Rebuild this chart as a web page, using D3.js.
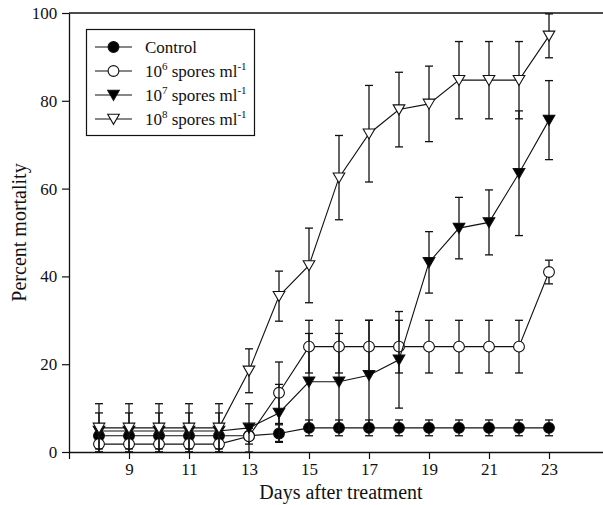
<!DOCTYPE html>
<html>
<head>
<meta charset="utf-8">
<script src="https://cdn.jsdelivr.net/npm/d3@7"></script>
<style>
  html, body { margin: 0; padding: 0; background: #fff; }
  svg { display: block; font-family: "Liberation Serif", "Times New Roman", serif; }
</style>
</head>
<body>
<div id="chart"></div>
<script>
// Days after treatment
const days = [8, 9, 10, 11, 12, 13, 14, 15, 16, 17, 18, 19, 20, 21, 22, 23];

// Percent mortality per treatment, with error bar half-widths
const control    = [3.7, 3.7, 3.7, 3.7, 3.7, 3.7, 4.2, 5.5, 5.5, 5.5, 5.5, 5.5, 5.5, 5.5, 5.5, 5.5];
const controlErr = [0, 0, 0, 0, 0, 0, 2, 1.8, 1.8, 1.8, 1.8, 1.8, 1.8, 1.8, 1.8, 1.8];

const spores6    = [1.8, 1.8, 1.8, 1.8, 1.8, 3.6, 13.5, 24, 24, 24, 24, 24, 24, 24, 24, 41];
const spores6Err = [1.8, 1.8, 1.8, 1.8, 1.8, 1.8, 7, 6, 6, 6, 6, 6, 6, 6, 6, 2.7];

const spores7    = [4.8, 4.8, 4.8, 4.8, 4.8, 5.5, 8.9, 16, 16, 17.5, 21, 43.2, 51, 52.3, 63.5, 75.6];
const spores7Err = [4.1, 4.1, 4.1, 4.1, 4.1, 5.5, 6.5, 11, 11, 12.5, 11, 7, 7, 7.4, 14.2, 9];

const spores8    = [5.5, 5.5, 5.5, 5.5, 5.5, 18.5, 35.5, 42.5, 62.5, 72.5, 78, 79.3, 84.7, 84.7, 84.7, 94.8];
const spores8Err = [5.5, 5.5, 5.5, 5.5, 5.5, 5, 5.7, 8.5, 9.6, 11, 8.5, 8.6, 8.8, 8.8, 8.8, 5];

const xTicks = [7, 9, 11, 13, 15, 17, 19, 21, 23, 25];
const xTickLabels = [9, 11, 13, 15, 17, 19, 21, 23];
const yTicks = [0, 20, 40, 60, 80, 100];

const series = [
    { name: 'Control', exp: null, values: control, err: controlErr, symbol: 'circle', fill: '#000' },
    { name: '10', exp: '6', values: spores6, err: spores6Err, symbol: 'circle', fill: '#fff' },
    { name: '10', exp: '7', values: spores7, err: spores7Err, symbol: 'triangle', fill: '#000' },
    { name: '10', exp: '8', values: spores8, err: spores8Err, symbol: 'triangle', fill: '#fff' }
];

const width = 603, height = 505;
const margin = { top: 13, left: 69, bottom: 53 };

const svg = d3.select('#chart').append('svg')
    .attr('width', width)
    .attr('height', height);

// Scales: 30px per day, 0..100 percent
const x = d3.scaleLinear().domain([7, 25]).range([margin.left, margin.left + 540]);
const y = d3.scaleLinear().domain([0, 100]).range([height - margin.bottom, margin.top]);

const ink = '#111';

// Draw a marker at the origin of a group
function drawSymbol(g, s) {
    if (s.symbol === 'circle') {
        g.append('circle').attr('r', 5.4)
            .attr('fill', s.fill).attr('stroke', ink).attr('stroke-width', 1.1);
    } else {
        g.append('path').attr('d', 'M-5.8,-4.7L5.8,-4.7L0,5.3Z')
            .attr('fill', s.fill).attr('stroke', ink).attr('stroke-width', 1.1)
            .attr('stroke-linejoin', 'miter');
    }
}

// Axes
const xAxis = svg.append('g')
    .attr('transform', `translate(0,${y(0)})`)
    .call(d3.axisBottom(x).tickValues(xTicks).tickSize(7).tickSizeOuter(0)
        .tickFormat(d => xTickLabels.includes(d) ? d : ''));

const yAxis = svg.append('g')
    .attr('transform', `translate(${x(7)},0)`)
    .call(d3.axisLeft(y).tickValues(yTicks).tickSize(7).tickSizeOuter(0));

[xAxis, yAxis].forEach(ax => {
    ax.select('.domain').attr('stroke', ink).attr('stroke-width', 1.3);
    ax.selectAll('line').attr('stroke', ink).attr('stroke-width', 1.2);
    ax.selectAll('text').attr('fill', ink).attr('font-size', '17px')
        .attr('font-family', '"Liberation Serif", serif');
});
xAxis.selectAll('text').attr('y', 11);
yAxis.selectAll('text').attr('dx', '-0.1em');

// Top frame line
svg.append('line')
    .attr('x1', x(7)).attr('x2', width)
    .attr('y1', y(100)).attr('y2', y(100))
    .attr('stroke', ink).attr('stroke-width', 1.3);

// Axis titles
svg.append('text')
    .attr('x', 341).attr('y', 499)
    .attr('text-anchor', 'middle')
    .attr('font-size', '20px')
    .attr('fill', ink)
    .text('Days after treatment');

svg.append('text')
    .attr('transform', `translate(26,${(y(0) + y(100)) / 2}) rotate(-90)`)
    .attr('text-anchor', 'middle')
    .attr('font-size', '20px')
    .attr('fill', ink)
    .text('Percent mortality');

// Series: error bars, connecting line, then markers, one series over the other
const line = d3.line().x(d => x(d.day)).y(d => y(d.v));
const capW = 4;

series.forEach(s => {
    const pts = days.map((day, i) => ({ day, v: s.values[i], e: s.err[i] }));
    const g = svg.append('g');

    const bars = g.selectAll('.err')
        .data(pts.filter(d => d.e > 0))
        .join('g')
        .attr('class', 'err')
        .attr('stroke', ink)
        .attr('stroke-width', 1.3);

    bars.append('line')
        .attr('x1', d => x(d.day)).attr('x2', d => x(d.day))
        .attr('y1', d => y(Math.min(100, d.v + d.e)))
        .attr('y2', d => y(Math.max(0, d.v - d.e)));
    bars.append('line')
        .attr('x1', d => x(d.day) - capW).attr('x2', d => x(d.day) + capW)
        .attr('y1', d => y(Math.min(100, d.v + d.e))).attr('y2', d => y(Math.min(100, d.v + d.e)));
    bars.append('line')
        .attr('x1', d => x(d.day) - capW).attr('x2', d => x(d.day) + capW)
        .attr('y1', d => y(Math.max(0, d.v - d.e))).attr('y2', d => y(Math.max(0, d.v - d.e)));

    g.append('path')
        .datum(pts)
        .attr('d', line)
        .attr('fill', 'none')
        .attr('stroke', ink)
        .attr('stroke-width', 1.1);

    g.selectAll('.mark')
        .data(pts)
        .join('g')
        .attr('class', 'mark')
        .attr('transform', d => `translate(${x(d.day)},${y(d.v)})`)
        .each(function () { drawSymbol(d3.select(this), s); });
});

// Legend
const legend = svg.append('g');
legend.append('rect')
    .attr('x', 86.5).attr('y', 29.5)
    .attr('width', 168).attr('height', 106)
    .attr('fill', '#fff')
    .attr('stroke', ink).attr('stroke-width', 1.2);

series.forEach((s, i) => {
    const ry = 47 + i * 24;
    const row = legend.append('g');
    row.append('line')
        .attr('x1', 95).attr('x2', 132)
        .attr('y1', ry).attr('y2', ry)
        .attr('stroke', ink).attr('stroke-width', 1.1);
    drawSymbol(row.append('g').attr('transform', `translate(113.5,${ry})`), s);

    const t = row.append('text')
        .attr('x', 145).attr('y', ry + 6)
        .attr('font-size', '17px')
        .attr('fill', ink);
    if (s.exp === null) {
        t.text(s.name);
    } else {
        t.append('tspan').text(s.name);
        t.append('tspan').attr('dy', -7).attr('font-size', '11px').text(s.exp);
        t.append('tspan').attr('dy', 7).text(' spores ml');
        t.append('tspan').attr('dy', -7).attr('font-size', '11px').text('-1');
    }
});
</script>
</body>
</html>
